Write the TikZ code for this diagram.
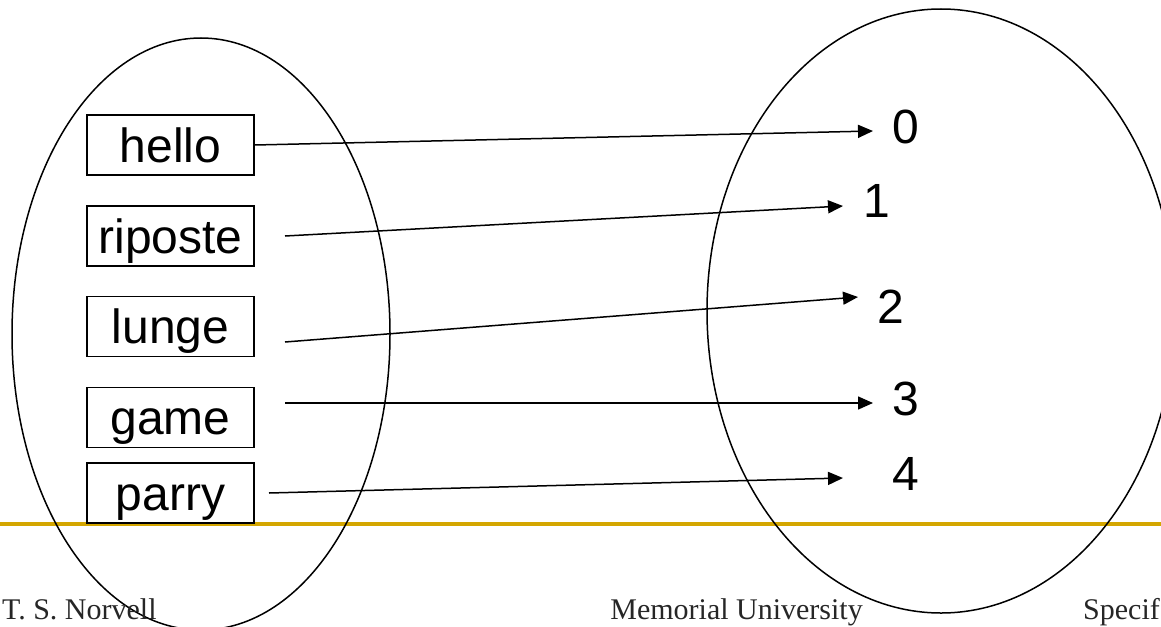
\documentclass[tikz,border=0pt]{standalone}
\usepackage{fontspec}
\setmainfont{Liberation Serif}
\newfontfamily\arialfont{Liberation Sans}
\usetikzlibrary{arrows.meta}
\definecolor{rulegold}{RGB}{212,166,0}

\begin{document}
\begin{tikzpicture}[
    x=1pt, y=-1pt,
    word/.style={draw, line width=1.5pt, minimum width=167pt, minimum height=60pt, inner sep=0pt, text height=47pt, text depth=13pt, font=\arialfont\fontsize{48}{56}\selectfont},
    num/.style={inner sep=0pt, font=\arialfont\fontsize{48}{56}\selectfont},
    foot/.style={inner sep=0pt, text=black!85, font=\fontsize{30}{34}\selectfont},
    arr/.style={-{Triangle[length=15pt,width=13pt]}, line width=1.5pt}
]
\useasboundingbox (0,0) rectangle (1161,626);
\clip (0,0) rectangle (1161,626);

% Slide rule
\draw[rulegold, line width=4pt] (0,524) -- (1161,524);

% Domain and range
\draw[line width=1.5pt] (201,334) ellipse [x radius=189pt, y radius=296pt];
\draw[line width=1.5pt] (941,311) ellipse [x radius=234pt, y radius=302pt];

% Words
\node[word] (hello) at (170.5,145) {hello};
\node[word] (riposte) at (170.5,236) {riposte};
\node[word] (lunge) at (170.5,326.5) {lunge};
\node[word] (game) at (170.5,417.5) {game};
\node[word] (parry) at (170.5,493) {parry};

% Numbers
\node[num] (n0) at (905.5,126.5) {0};
\node[num] (n1) at (877,200.5) {1};
\node[num] (n2) at (891,307) {2};
\node[num] (n3) at (906,399) {3};
\node[num] (n4) at (905.5,474) {4};

% Arrow ends
\coordinate (sriposte) at (285,236);
\coordinate (slunge) at (285,342);
\coordinate (sgame) at (285,403);
\coordinate (sparry) at (269,493);
\coordinate (t0) at (873,131);
\coordinate (t1) at (843,206);
\coordinate (t2) at (858,297);
\coordinate (t3) at (873,403);
\coordinate (t4) at (843,478);

% Arrows
\draw[arr] (hello.east) -- (t0);
\draw[arr] (sriposte) -- (t1);
\draw[arr] (slunge) -- (t2);
\draw[arr] (sgame) -- (t3);
\draw[arr] (sparry) -- (t4);

% Footer
\node[foot, anchor=base west] (author) at (2,619) {T. S. Norvell};
\node[foot, anchor=base east] (univ) at (863,619) {Memorial University};
\node[foot, anchor=base west] (course) at (1083,619) {Specif};
\end{tikzpicture}
\end{document}
